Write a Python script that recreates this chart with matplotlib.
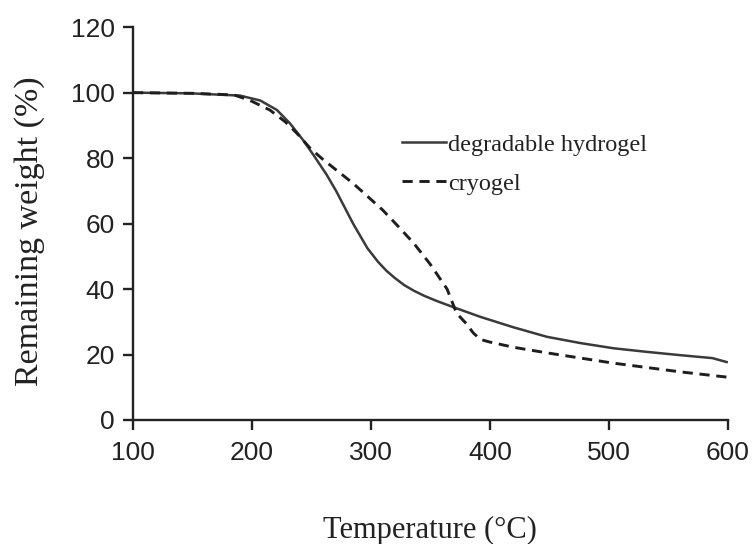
import matplotlib.pyplot as plt

# TGA curves: temperature (°C) vs remaining weight (%)
temp_hydrogel = [100, 148, 190, 207, 221, 232, 243, 252, 263, 271, 285, 297, 306, 313, 320, 328, 336, 345, 355,
                 369, 392, 419, 448, 476, 504, 532, 560, 587, 599]
weight_hydrogel = [100, 99.8, 99.1, 97.6, 94.7, 90.6, 85.5, 80.8, 74.8, 69.8, 60.0, 52.5, 48.3, 45.6, 43.4, 41.2,
                   39.5, 37.9, 36.4, 34.5, 31.5, 28.4, 25.4, 23.5, 21.9, 20.8, 19.8, 18.9, 17.7]

temp_cryogel = [100, 150, 185, 198, 215, 228, 238, 249, 260, 285, 310, 322, 336, 350, 364, 372, 380, 386,
                392, 400, 420, 448, 503, 560, 599]
weight_cryogel = [100, 99.8, 99.3, 97.7, 94.7, 91.1, 87.5, 83.0, 79.5, 72.3, 64.1, 59.5, 54.0, 47.5, 40.0, 32.6,
                  29.5, 26.6, 24.6, 23.8, 22.2, 20.5, 17.4, 14.7, 13.1]

xticks = [100, 200, 300, 400, 500, 600]
yticks = [0, 20, 40, 60, 80, 100, 120]

fig = plt.figure(figsize=(7.53, 5.44), dpi=100)
ax = fig.add_axes([0.1766, 0.228, 0.79, 0.722])

ax.plot(temp_hydrogel, weight_hydrogel, color='#3a3a3a', lw=1.8, label='degradable hydrogel')
ax.plot(temp_cryogel, weight_cryogel, color='#1e1e1e', lw=2.1, ls=(0, (3.5, 2.3)), label='cryogel')

ax.set_xlim(100, 600)
ax.set_ylim(0, 120)
ax.set_xticks(xticks)
ax.set_yticks(yticks)

for side in ['top', 'right']:
    ax.spines[side].set_visible(False)
for side in ['left', 'bottom']:
    ax.spines[side].set_linewidth(1.7)
    ax.spines[side].set_color('#222222')

ax.tick_params(direction='out', length=7, width=1.7, color='#222222',
               labelsize=19, labelcolor='#222222')
ax.tick_params(axis='x', pad=8)
ax.tick_params(axis='y', pad=6)
for lab in ax.get_xticklabels() + ax.get_yticklabels():
    lab.set_family('Liberation Sans')

ax.set_xlabel('Temperature (°C)', family='Liberation Serif', fontsize=22, color='#222222')
ax.xaxis.set_label_coords(0.5, -0.245)
ax.set_ylabel('Remaining weight (%)', family='Liberation Serif', fontsize=24.5, color='#222222')
ax.yaxis.set_label_coords(-0.148, 0.48)

ax.legend(loc='upper left', bbox_to_anchor=(0.4315, 0.76), frameon=False,
          prop={'family': 'Liberation Serif', 'size': 17.5},
          handlelength=1.8, handletextpad=0.1, labelspacing=0.7,
          borderpad=0, labelcolor='#222222')

fig.savefig('out.png', dpi=100)
